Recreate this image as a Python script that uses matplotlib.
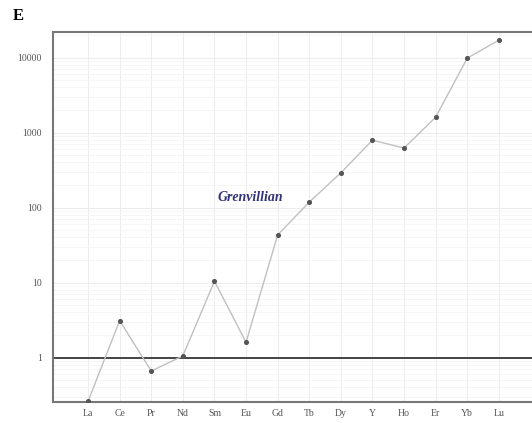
import matplotlib.pyplot as plt
from matplotlib.ticker import FixedLocator, FixedFormatter, NullFormatter

# REE pattern (chondrite-normalised)
elements = ["La", "Ce", "Pr", "Nd", "Sm", "Eu", "Gd", "Tb", "Dy", "Y", "Ho", "Er", "Yb", "Lu"]
values = [0.26, 3.1, 0.66, 1.05, 10.4, 1.6, 43, 118, 290, 790, 620, 1600, 9800, 17000]
yticks = [1, 10, 100, 1000, 10000]
ytick_labels = ["1", "10", "100", "1000", "10000"]

plt.rcParams['font.family'] = ['Liberation Serif', 'DejaVu Serif']

fig = plt.figure(figsize=(5.32, 4.23), dpi=100)
ax = fig.add_axes([0.0996, 0.0496, 0.9004, 0.8748])

x = list(range(len(elements)))
ax.plot(x, values, color='#c0c0c0', linewidth=1.0, zorder=3)
ax.scatter(x, values, s=7, color='#555555', zorder=4)
ax.axhline(1, color='#444444', linewidth=1.4, zorder=2)

ax.set_yscale('log')
ax.set_xlim(-1.11, 14.05)
ax.set_ylim(0.255, 21900)

ax.yaxis.set_major_locator(FixedLocator(yticks))
ax.yaxis.set_major_formatter(FixedFormatter(ytick_labels))
ax.yaxis.set_minor_formatter(NullFormatter())
ax.set_xticks(x)
ax.set_xticklabels(elements)
ax.tick_params(axis='both', which='both', length=0, labelsize=7, labelcolor='#555555')
ax.tick_params(axis='y', pad=8)
ax.tick_params(axis='x', pad=5)

ax.grid(True, which='major', color='#ececec', linewidth=0.7, zorder=0)
ax.grid(True, which='minor', axis='y', color='#f5f5f5', linewidth=0.6, zorder=0)

for side in ['left', 'bottom', 'top']:
    ax.spines[side].set_color('#777777')
    ax.spines[side].set_linewidth(1.5)
ax.spines['right'].set_visible(False)

ax.text(5.15, 134, "Grenvillian", color='#33337a', fontsize=10,
        fontstyle='italic', fontweight='bold', ha='center', va='center')

fig.text(0.034, 0.962, "E", fontsize=12, fontweight='bold', ha='center', va='center')

fig.savefig("out.png", dpi=100)
